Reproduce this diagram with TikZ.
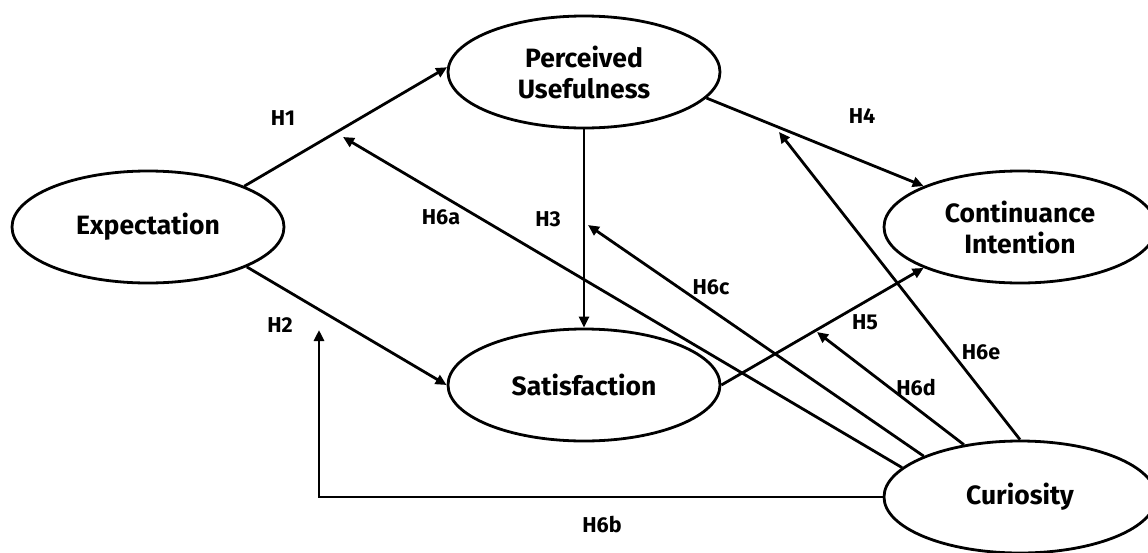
\documentclass[tikz,border=0pt]{standalone}
\usepackage{fontspec}
\setmainfont{Fira Sans}
\usetikzlibrary{arrows.meta,shapes.geometric,calc}

\tikzset{
  konstrukt/.style={ellipse, draw, line width=2.8pt, minimum width=272pt, minimum height=112pt,
    inner sep=0pt, align=center, font=\bfseries\fontsize{26.5}{31}\selectfont},
  pfeil/.style={line width=2.8pt, -{Triangle[length=11pt,width=10pt]}},
  hyp/.style={font=\bfseries\fontsize{21.5}{24}\selectfont}
}

\begin{document}
\begin{tikzpicture}[x=1pt, y=-1pt]
	\useasboundingbox (0,0) rectangle (1148,552); % Rand wie im Original
	
	% Konstrukte
	\node[konstrukt] (exp) at (148,227) {Expectation};
	\node[konstrukt] (pu)  at (584,72)  {Perceived\\Usefulness};
	\node[konstrukt] (sat) at (584,385) {Satisfaction};
	\node[konstrukt] (ci)  at (1020,227) {Continuance\\Intention};
	\node[konstrukt] (cur) at (1020,497) {Curiosity};
	
	% Enden der Moderator-Pfeile
	\coordinate (t6a) at (343,137);
	\coordinate (t6b) at (319,330);
	\coordinate (t6c) at (588,225);
	\coordinate (t6d) at (817,332);
	\coordinate (t6e) at (779,132);
	
	\draw[pfeil] (exp.23) -- (pu.178);
	\draw[pfeil] (exp.-22) -- (sat.west);
	\draw[pfeil] (pu.south) -- (sat.north);
	\draw[pfeil] (pu.-12) -- (ci.157);
	\draw[pfeil] (sat.east) -- (ci.203);
	
	\draw[pfeil] (cur.166) -- (t6a);
	\draw[pfeil] (cur.west) -| (t6b);
	\draw[pfeil] (cur.157) -- (t6c);
	\draw[pfeil] (cur.137) -- (t6d);
	\draw[pfeil] (cur.north) -- (t6e);
	
	% Hypothesen
	\node[hyp] (lh1)  at (283,118) {H1};
	\node[hyp] (lh2)  at (280,325) {H2};
	\node[hyp] (lh3)  at (548,219) {H3};
	\node[hyp] (lh4)  at (862,116) {H4};
	\node[hyp] (lh5)  at (865,322) {H5};
	\node[hyp] (lh6a) at (441,217) {H6a};
	\node[hyp] (lh6b) at (602,525) {H6b};
	\node[hyp] (lh6c) at (711,287) {H6c};
	\node[hyp] (lh6d) at (916,388) {H6d};
	\node[hyp] (lh6e) at (981,352) {H6e};
	
\end{tikzpicture}
\end{document}
